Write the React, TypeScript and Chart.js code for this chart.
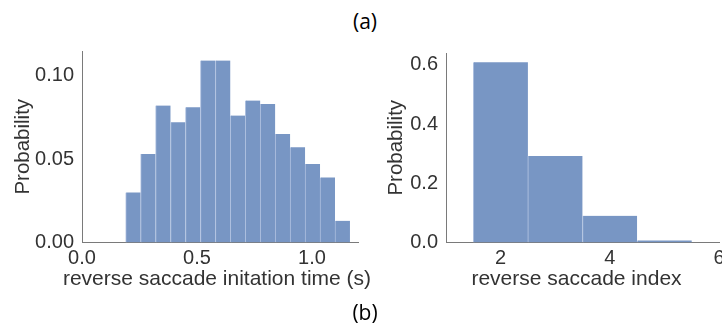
import React, { useEffect, useRef } from "react";
import { Chart, registerables } from "chart.js";

Chart.register(...registerables);

// ---- Data ----
// (a) left: reverse saccade initiation time histogram
const timeBinCenters = [0.2225, 0.2875, 0.3525, 0.4175, 0.4825, 0.5475, 0.6125, 0.6775, 0.7425, 0.8075, 0.8725, 0.9375, 1.0025, 1.0675, 1.1325];
const timeProbabilities = [0.030, 0.053, 0.082, 0.072, 0.081, 0.109, 0.109, 0.076, 0.085, 0.083, 0.065, 0.057, 0.047, 0.039, 0.013];
const timeXTicks = [0, 0.5, 1.0];
const timeXTickLabels = ["0.0", "0.5", "1.0"];
const timeYTicks = [0, 0.05, 0.1];
const timeYTickLabels = ["0.00", "0.05", "0.10"];

// (a) right: reverse saccade index histogram
const indexBinCenters = [2, 3, 4, 5];
const indexProbabilities = [0.609, 0.292, 0.090, 0.007];
const indexXTicks = [2, 4, 6];
const indexXTickLabels = ["2", "4", "6"];
const indexYTicks = [0, 0.2, 0.4, 0.6];
const indexYTickLabels = ["0.0", "0.2", "0.4", "0.6"];

const BAR_COLOR = "#7896c4";
const BAR_EDGE = "#adbfdf";
const TEXT_COLOR = "#333333";
const AXIS_COLOR = "#7a7a7a";
const FONT = "'Liberation Sans', Arial, sans-serif";

type HistProps = {
  left: number;
  width: number;
  height: number;
  centers: number[];
  values: number[];
  xMin: number;
  xMax: number;
  yMax: number;
  xTicks: number[];
  xTickLabels: string[];
  yTicks: number[];
  yTickLabels: string[];
  xTitle: string;
  xTitleShift: number;
  yAxisWidth: number;
  padTop: number;
  padRight: number;
  yTitlePad: number;
};

function Hist(p: HistProps) {
  const ref = useRef<HTMLCanvasElement | null>(null);
  useEffect(() => {
    if (!ref.current) return;
    // x-axis title drawn unsqueezed (matplotlib lets it overflow the axes width)
    const xTitlePlugin = {
      id: "xTitleFree",
      afterDraw(chart: any) {
        const { ctx, chartArea } = chart;
        ctx.save();
        ctx.font = `21px ${FONT}`;
        ctx.fillStyle = TEXT_COLOR;
        ctx.textAlign = "center";
        ctx.textBaseline = "middle";
        ctx.fillText(p.xTitle, (chartArea.left + chartArea.right) / 2 + p.xTitleShift, 279);
        ctx.restore();
      },
    };
    const chart = new Chart(ref.current, {
      type: "bar",
      data: {
        datasets: [
          {
            data: p.centers.map((c, i) => ({ x: c, y: p.values[i] })),
            backgroundColor: BAR_COLOR,
            borderColor: BAR_EDGE,
            borderWidth: { left: 1, right: 0, top: 0, bottom: 0 },
            borderSkipped: false,
            barPercentage: 1,
            categoryPercentage: 1,
          },
        ],
      },
      plugins: [xTitlePlugin],
      options: {
        responsive: false,
        animation: false,
        devicePixelRatio: 1,
        layout: { padding: { top: p.padTop, right: p.padRight, left: 0, bottom: 0 } },
        plugins: { legend: { display: false }, tooltip: { enabled: false } },
        scales: {
          x: {
            type: "linear",
            min: p.xMin,
            max: p.xMax,
            offset: false,
            grid: { display: false, drawTicks: false, offset: false },
            border: { display: true, color: AXIS_COLOR, width: 1 },
            afterBuildTicks: (s: any) => {
              s.ticks = p.xTicks.map((v) => ({ value: v }));
            },
            afterFit: (s: any) => {
              s.height = 57.5;
            },
            ticks: {
              autoSkip: false,
              maxRotation: 0,
              padding: 4,
              color: TEXT_COLOR,
              font: { family: FONT, size: 20 },
              callback: (_v: any, i: number) => p.xTickLabels[i],
            },
            title: { display: false },
          },
          y: {
            type: "linear",
            min: 0,
            max: p.yMax,
            grid: { display: false, drawTicks: false },
            border: { display: true, color: AXIS_COLOR, width: 1 },
            afterBuildTicks: (s: any) => {
              s.ticks = p.yTicks.map((v) => ({ value: v }));
            },
            afterFit: (s: any) => {
              s.width = p.yAxisWidth;
            },
            ticks: {
              autoSkip: false,
              padding: 8,
              color: TEXT_COLOR,
              font: { family: FONT, size: 20 },
              callback: (_v: any, i: number) => p.yTickLabels[i],
            },
            title: {
              display: true,
              text: "Probability",
              color: TEXT_COLOR,
              font: { family: FONT, size: 20.5 },
              padding: { top: p.yTitlePad, bottom: 0 },
            },
          },
        },
      },
    } as any);
    return () => chart.destroy();
  }, []);
  return (
    <canvas
      ref={ref}
      width={p.width}
      height={p.height}
      style={{ position: "absolute", left: p.left, top: 0, width: p.width, height: p.height }}
    />
  );
}

const captionStyle: React.CSSProperties = {
  position: "absolute",
  left: 265,
  width: 200,
  textAlign: "center",
  fontFamily: "'Open Sans', 'Noto Sans', sans-serif",
  fontSize: 21,
  lineHeight: "24px",
  color: "#000",
};

export default function App() {
  return (
    <div
      style={{
        position: "absolute",
        left: 0,
        top: 0,
        width: 722,
        height: 335,
        overflow: "hidden",
        background: "#fff",
      }}
    >
      <div style={{ ...captionStyle, top: 9 }}>(a)</div>
      <Hist
        left={0}
        width={380}
        height={300}
        centers={timeBinCenters}
        values={timeProbabilities}
        xMin={0}
        xMax={1.2}
        yMax={0.1147}
        xTicks={timeXTicks}
        xTickLabels={timeXTickLabels}
        yTicks={timeYTicks}
        yTickLabels={timeYTickLabels}
        xTitle="reverse saccade initation time (s)"
        xTitleShift={-3}
        yAxisWidth={82}
        padTop={51}
        padRight={22}
        yTitlePad={11}
      />
      <Hist
        left={370}
        width={390}
        height={300}
        centers={indexBinCenters}
        values={indexProbabilities}
        xMin={1}
        xMax={6}
        yMax={0.64}
        xTicks={indexXTicks}
        xTickLabels={indexXTickLabels}
        yTicks={indexYTicks}
        yTickLabels={indexYTickLabels}
        xTitle="reverse saccade index"
        xTitleShift={-6}
        yAxisWidth={76}
        padTop={53}
        padRight={41}
        yTitlePad={14.5}
      />
      <div style={{ ...captionStyle, top: 300 }}>(b)</div>
    </div>
  );
}
